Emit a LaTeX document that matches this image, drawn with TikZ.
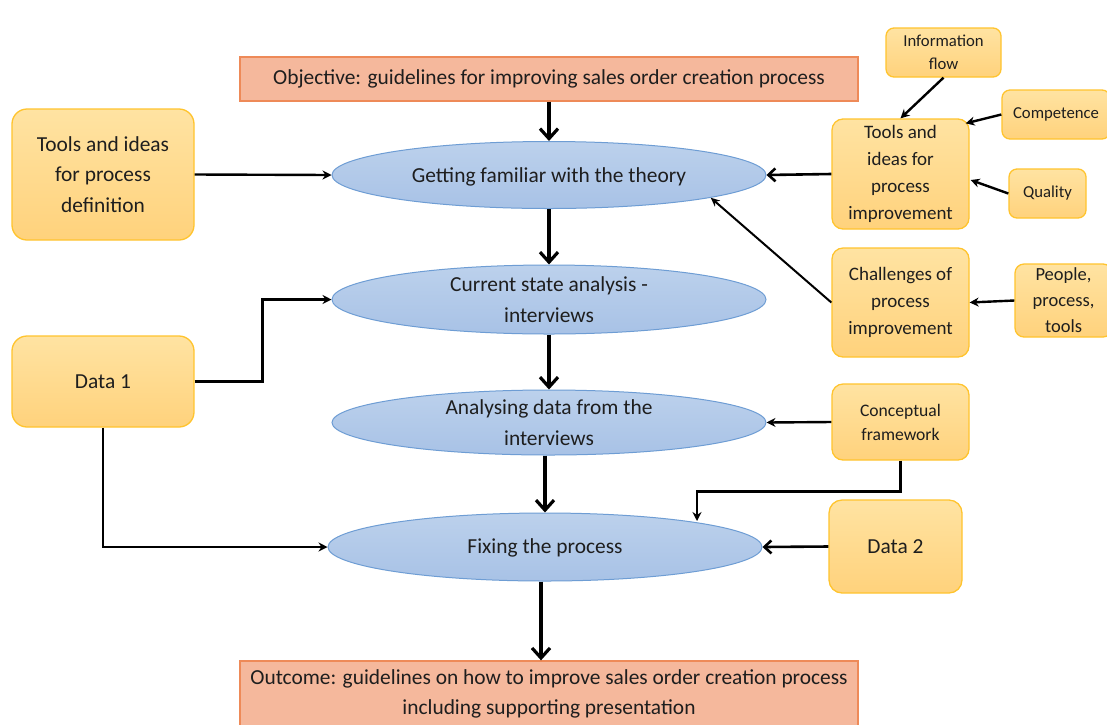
\documentclass[tikz,border=0pt]{standalone}
\usepackage{fontspec}
\setmainfont{Carlito}
\usetikzlibrary{arrows.meta,shapes.geometric,calc}

\definecolor{ink}{HTML}{1E1E1E}
\definecolor{ygold}{HTML}{FFC42E}
\definecolor{ytop}{HTML}{FFE3A2}
\definecolor{ybot}{HTML}{FFD27C}
\definecolor{sedge}{HTML}{EE8A58}
\definecolor{sfill}{HTML}{F5B89C}
\definecolor{bedge}{HTML}{6E9DD4}
\definecolor{btop}{HTML}{BCD1EC}
\definecolor{bbot}{HTML}{A8C2E6}

\newcommand\sizeMain{\fontsize{21.4}{30.5}\selectfont}
\newcommand\sizeMid{\fontsize{19}{27}\selectfont}
\newcommand\sizePeople{\fontsize{18.5}{26}\selectfont}
\newcommand\sizeConc{\fontsize{17.6}{24}\selectfont}
\newcommand\sizeSmall{\fontsize{16.7}{23}\selectfont}

\tikzset{
  txt/.style={text=ink, align=center, inner sep=0pt},
  ybox/.style={draw=ygold, line width=1.3pt, rounded corners=11pt,
    top color=ytop, bottom color=ybot, text=ink, align=center, inner sep=0pt},
  sbox/.style={draw=sedge, line width=1.3pt, fill=sfill, text=ink,
    align=center, inner sep=0pt},
  proc/.style={ellipse, draw=bedge, line width=1pt, top color=btop,
    bottom color=bbot, inner sep=0pt},
  flow/.style={line width=3.2pt, -{Straight Barb[length=10pt,width=18pt]}},
  feed/.style={line width=2.6pt, -{Straight Barb[length=7pt,width=13pt]}},
  link/.style={line width=2.4pt, -{Stealth[length=9pt,width=9pt]}},
  thinlink/.style={line width=2pt, -{Stealth[length=9pt,width=8pt]}},
}

\begin{document}
\begin{tikzpicture}[x=1pt,y=-1pt]
\fill[white] (0,0) rectangle (1107,724);
\useasboundingbox (0,0) rectangle (1107,724);

% objective and outcome
\node[sbox, minimum width=618, minimum height=44, font=\sizeMain] (obj) at (549,79)
  {Objective: guidelines for improving sales order creation process};
\node[sbox, minimum width=618, minimum height=66, font=\sizeMain] (out) at (549,694)
  {Outcome: guidelines on how to improve sales order creation process\\including supporting presentation};

% main process steps
\node[proc, minimum width=434, minimum height=67] (e1) at (549,175) {};
\node[txt, font=\sizeMain] (e1t) at (549,177) {Getting familiar with the theory};
\node[proc, minimum width=434, minimum height=69] (e2) at (549,299.5) {};
\node[txt, font=\sizeMain] (e2t) at (e2) {Current state analysis -\\interviews};
\node[proc, minimum width=434, minimum height=65] (e3) at (549,422.5) {};
\node[txt, font=\sizeMain] (e3t) at (e3) {Analysing data from the\\interviews};
\node[proc, minimum width=434, minimum height=68] (e4) at (545,547) {};
\node[txt, font=\sizeMain] (e4t) at (545,548) {Fixing the process};

% inputs on the left
\node[ybox, rounded corners=15pt, minimum width=182, minimum height=131, font=\sizeMain] (td) at (103,174.5)
  {Tools and ideas\\for process\\definition};
\node[ybox, rounded corners=15pt, minimum width=182, minimum height=91, font=\sizeMain] (d1) at (103,381.5)
  {Data 1};

% inputs on the right
\node[ybox, minimum width=137, minimum height=110, font=\sizeMid] (ti) at (900.5,174)
  {Tools and\\ideas for\\process\\improvement};
\node[ybox, minimum width=137, minimum height=109, font=\sizeMid] (ch) at (900.5,302.5)
  {Challenges of\\process\\improvement};
\node[ybox, minimum width=137, minimum height=76, font=\sizeConc] (cf) at (900.5,422)
  {Conceptual\\framework};
\node[ybox, rounded corners=13pt, minimum width=133, minimum height=93, font=\sizeMain] (d2) at (895.5,546.5)
  {Data 2};

% sources of the improvement tools
\node[ybox, rounded corners=8pt, minimum width=115, minimum height=49, font=\sizeSmall] (inf) at (943.5,52.5)
  {Information\\flow};
\node[ybox, rounded corners=8pt, minimum width=108, minimum height=49, font=\sizeSmall] (comp) at (1056,114.5)
  {Competence};
\node[ybox, rounded corners=8pt, minimum width=77, minimum height=49, font=\sizeSmall] (qual) at (1047.5,193.5)
  {Quality};
\node[ybox, rounded corners=9pt, minimum width=97, minimum height=73, font=\sizePeople] (ppl) at (1063.5,300.5)
  {People,\\process,\\tools};

\coordinate (fixin) at (697,521);

% main flow
\draw[flow] (obj.south) -- (e1.north);
\draw[flow] (e1.south) -- (e2.north);
\draw[flow] (e2.south) -- (e3.north);
\draw[flow] (e3.south -| e4.north) -- (e4.north);
\draw[flow] (e4.south -| 541,0) -- (out.north -| 541,0);

% connectors
\draw[link] (td.east) -- (e1.west);
\draw[link] (d1.east) -- ++(68,0) |- (e2.west);
\draw[link] (d1.south) |- (e4.west);
\draw[feed] (ti.west) -- (e1.east);
\draw[thinlink] (ch.west) -- (e1.-8);
\draw[link] (cf.west) -- (e3.east);
\draw[link] (cf.south) -- ++(0,31) -| (fixin);
\draw[feed] (d2.west) -- (e4.east);
\draw[link] (inf.south) -- (ti.north);
\draw[link] (comp.west) -- ($(ti.north east)+(-4,5)$);
\draw[link] (qual.west) -- ($(ti.east)+(1,6)$);
\draw[link] (ppl.west) -- (ch.east);
\end{tikzpicture}
\end{document}
